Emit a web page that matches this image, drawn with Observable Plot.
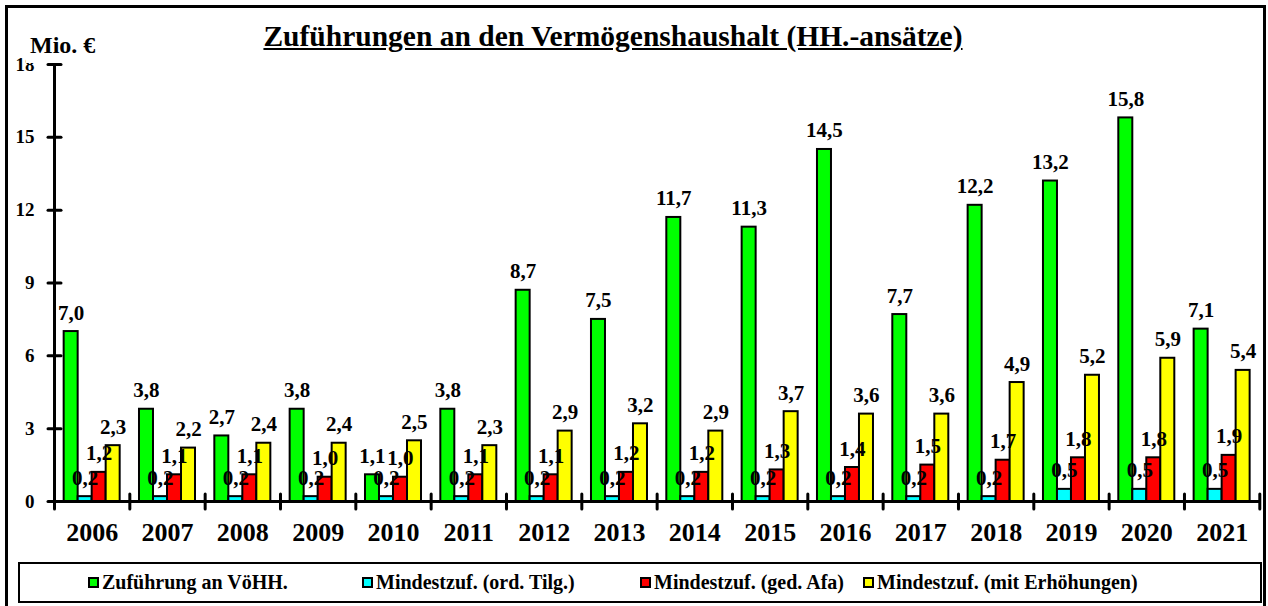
<!DOCTYPE html>
<html><head><meta charset="utf-8">
<script src="https://cdn.jsdelivr.net/npm/d3@7"></script>
<script src="https://cdn.jsdelivr.net/npm/@observablehq/plot@0.6"></script>
<style>
html,body{margin:0;padding:0;overflow:hidden;background:#fff}
#wrap{position:relative;width:1268px;height:606px;font-family:"Liberation Serif","Times New Roman",Times,serif;font-weight:bold;color:#000;background:#fff}
#chart{position:absolute;left:0;top:0}
#border{position:absolute;left:5px;top:5px;width:1261px;height:640px;border:3px solid #000;box-sizing:border-box;pointer-events:none}
#title{position:absolute;left:0;top:20px;width:1226px;text-align:center;font-size:29.5px;text-decoration:underline;white-space:nowrap}
#unit{position:absolute;left:26px;top:32px;height:31px;padding-left:4px;padding-right:2px;font-size:24px;line-height:27px;background:#fff;white-space:nowrap}
#legend{position:absolute;left:18px;top:562px;width:1244px;height:41px;border:2.5px solid #000;box-sizing:border-box;background:#fff}
.li{position:absolute;top:0;height:36px;display:flex;align-items:center;font-size:20px;white-space:nowrap}
.sw{width:11px;height:11px;border:2px solid #000;box-sizing:border-box;margin-right:3px}
</style></head>
<body>
<div id="wrap">
  <div id="chart"></div>
  <div id="title">Zuführungen an den Vermögenshaushalt (HH.-ansätze)</div>
  <div id="unit">Mio. €</div>
  <div id="legend"></div>
  <div id="border"></div>
</div>
<script>
const years = ["2006","2007","2008","2009","2010","2011","2012","2013","2014","2015","2016","2017","2018","2019","2020","2021"];
const seriesNames = ["Zuführung an VöHH.","Mindestzuf. (ord. Tilg.)","Mindestzuf. (ged. Afa)","Mindestzuf. (mit Erhöhungen)"];
const zufuehrung = [7.0,3.8,2.7,3.8,1.1,3.8,8.7,7.5,11.7,11.3,14.5,7.7,12.2,13.2,15.8,7.1];
const ordTilg    = [0.2,0.2,0.2,0.2,0.2,0.2,0.2,0.2,0.2,0.2,0.2,0.2,0.2,0.5,0.5,0.5];
const gedAfa     = [1.2,1.1,1.1,1.0,1.0,1.1,1.1,1.2,1.2,1.3,1.4,1.5,1.7,1.8,1.8,1.9];
const mitErh     = [2.3,2.2,2.4,2.4,2.5,2.3,2.9,3.2,2.9,3.7,3.6,3.6,4.9,5.2,5.9,5.4];
const yTicks = [0,3,6,9,12,15,18];
const colors = ["#00ff00","#00ffff","#ff0000","#ffff00"];

const seriesValues = [zufuehrung, ordTilg, gedAfa, mitErh];
const data = [];
years.forEach((y, i) => seriesNames.forEach((s, j) => data.push({year: y, series: s, value: seriesValues[j][i]})));
const fmt = v => v.toFixed(1).replace(".", ",");
const serif = "'Liberation Serif','Times New Roman',Times,serif";

const lineShape = {draw(ctx, l) { ctx.moveTo(0, 0); ctx.lineTo(0, -l); }};

const plot = Plot.plot({
  width: 1268, height: 556,
  marginLeft: 54, marginRight: 8.7, marginTop: 64, marginBottom: 55,
  style: `font-family: ${serif}; font-weight: bold; background: transparent; color: #000;`,
  fx: {domain: years, padding: 0, round: false, label: null},
  x: {domain: seriesNames, paddingInner: 0, paddingOuter: 0.69, round: false, axis: null},
  y: {domain: [0, 18], label: null},
  color: {domain: seriesNames, range: colors},
  marks: [
    Plot.barY(data, {fx: "year", x: "series", y: "value", fill: "series", stroke: "#000", strokeWidth: 2}),
    Plot.ruleY([0], {stroke: "#000", strokeWidth: 3}),
    Plot.frame({anchor: "left", facetAnchor: "left", stroke: "#000", strokeWidth: 3}),
    Plot.vector(yTicks, {y: d => d, frameAnchor: "left", length: 13, rotate: 90, anchor: "middle", shape: lineShape, stroke: "#000", strokeWidth: 3, facetAnchor: "left"}),
    Plot.vector([0], {y: d => d, frameAnchor: "left", length: 15, anchor: "middle", shape: lineShape, stroke: "#000", strokeWidth: 3}),
    Plot.vector([0], {y: d => d, frameAnchor: "right", length: 15, anchor: "middle", shape: lineShape, stroke: "#000", strokeWidth: 3, facetAnchor: "right"}),
    Plot.text(data, {fx: "year", x: "series", y: "value", text: d => fmt(d.value), lineAnchor: "bottom", dy: -12, fontSize: 21, fontWeight: "bold", fontFamily: serif, fill: "#000"}),
    Plot.axisY({ticks: yTicks, tickSize: 0, tickPadding: 20, fontSize: 19, fontWeight: "bold", fontFamily: serif, label: null, tickFormat: d => String(d)}),
    Plot.axisFx({anchor: "bottom", tickSize: 0, tickPadding: 21, fontSize: 26, fontWeight: "bold", fontFamily: serif, label: null})
  ]
});
document.getElementById("chart").appendChild(plot);

const legendLeft = [68, 342, 620, 843];
const legend = document.getElementById("legend");
seriesNames.forEach((s, i) => {
  const item = document.createElement("div");
  item.className = "li";
  item.style.left = legendLeft[i] + "px";
  const sw = document.createElement("div");
  sw.className = "sw";
  sw.style.background = colors[i];
  const t = document.createElement("span");
  t.textContent = s;
  item.appendChild(sw); item.appendChild(t);
  legend.appendChild(item);
});
</script>
</body></html>
